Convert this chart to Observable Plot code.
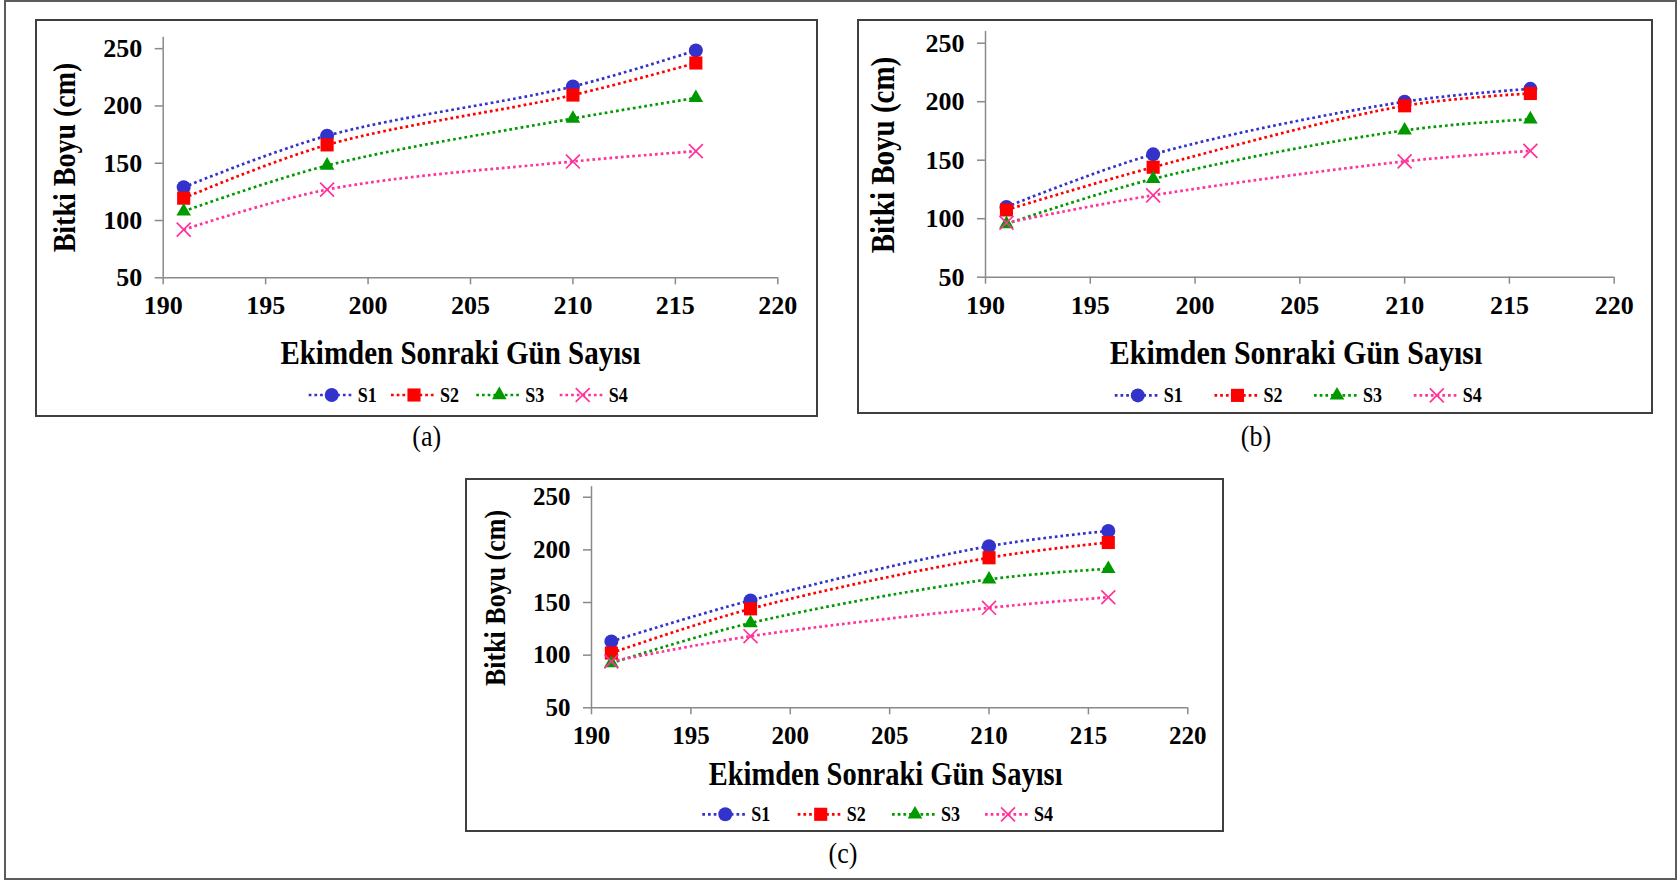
<!DOCTYPE html>
<html><head><meta charset="utf-8">
<script src="https://cdn.jsdelivr.net/npm/d3@7"></script>
<script src="https://cdn.jsdelivr.net/npm/@observablehq/plot@0.6"></script>
<style>
body{margin:0;background:#fff;}
#page{position:relative;width:1680px;height:881px;overflow:hidden;background:#fff;font-family:"Liberation Serif","Times New Roman",serif;}
.frame{position:absolute;border:2px solid #3f3f3f;box-sizing:border-box;}
.plot{position:absolute;}
#overlay{position:absolute;left:0;top:0;}
</style></head><body><div id="page"></div>
<script>
// ---- data ----
const days = [191, 198, 210, 216];
const series = ["S1", "S2", "S3", "S4"];
const xTicks = [190, 195, 200, 205, 210, 215, 220];
const yTicks = [50, 100, 150, 200, 250];
const a_S1 = [129, 174, 217, 248.5];
const a_S2 = [119.5, 166, 209.5, 237.5];
const a_S3 = [108, 148, 189, 207];
const a_S4 = [92, 127, 151.5, 160.5];
const b_S1 = [110, 155, 200, 211];
const b_S2 = [107.5, 144, 196.5, 207];
const b_S3 = [95.5, 134, 175.5, 185];
const b_S4 = [96.5, 120, 149, 158];
const c_S1 = [113, 152, 203.5, 218];
const c_S2 = [102, 144, 192.5, 207];
const c_S3 = [92.5, 130.5, 172, 182];
const c_S4 = [94, 118, 145, 155];
const xTitle = "Ekimden Sonraki Gün Sayısı";
const yTitle = "Bitki Boyu (cm)";

const colors = ["#3333CC", "#FF0000", "#009A00", "#FF3399"];
const symbols = ["circle", "square", "triangle", "times"];
const symR = [7, 7.4, 5.4, 6.4];
const SY = 1.15; // vertical stretch of overlay text, as in the reference

const panels = [
  {vals:[a_S1,a_S2,a_S3,a_S4], label:"(a)", frame:{l:35,t:19,r:818,b:417}, svg:{l:37,t:21,w:779,h:304},
   x0:162.7, x1:777.3, yTop:36.7, yBot:277.3, tickFont:26,
   xt:{x:460.5,y:364,s:29}, yt:{x:75,y:157.5,s:28}, lg:{y:395,xs:[331.7,414,499.3,582.7]}, lb:{x:426.7,y:446}},
  {vals:[b_S1,b_S2,b_S3,b_S4], label:"(b)", frame:{l:857,t:19,r:1653,b:414}, svg:{l:859,t:21,w:792,h:304},
   x0:985, x1:1613.7, yTop:31, yBot:276.7, tickFont:26,
   xt:{x:1296,y:364,s:30}, yt:{x:894,y:155,s:29}, lg:{y:395.4,xs:[1137.8,1237.5,1337,1436.8]}, lb:{x:1256,y:446}},
  {vals:[c_S1,c_S2,c_S3,c_S4], label:"(c)", frame:{l:465,t:478,r:1224,b:832}, svg:{l:467,t:480,w:755,h:275},
   x0:591, x1:1187.3, yTop:486.2, yBot:707.3, tickFont:25,
   xt:{x:885.6,y:785,s:28.5}, yt:{x:505,y:598,s:26}, lg:{y:814.3,xs:[725.3,820.7,915,1008]}, lb:{x:843,y:863}}
];

const page = document.getElementById("page");
const outer = document.createElement("div");
outer.className = "frame";
Object.assign(outer.style, {left:"4px", top:"0px", width:"1673px", height:"880px", borderColor:"#5c5c5c"});
page.appendChild(outer);

const axisGray = "#898989";

panels.forEach(p => {
  const f = document.createElement("div");
  f.className = "frame";
  Object.assign(f.style, {left:p.frame.l+"px", top:p.frame.t+"px", width:(p.frame.r-p.frame.l)+"px", height:(p.frame.b-p.frame.t)+"px"});
  page.appendChild(f);

  const data = [];
  series.forEach((s, i) => days.forEach((d, j) => data.push({day:d, value:p.vals[i][j], series:s})));

  const s = p.svg;
  const dotMarks = series.map((name, i) => {
    const sub = data.filter(d => d.series === name);
    if (symbols[i] === "times")
      return Plot.dot(sub, {x:"day", y:"value", symbol:() => "times", stroke:colors[i], strokeWidth:1.7, r:symR[i]});
    return Plot.dot(sub, {x:"day", y:"value", symbol:() => symbols[i], fill:colors[i], r:symR[i]});
  });

  const chart = Plot.plot({
    width:s.w, height:s.h,
    marginLeft:p.x0 - s.l, marginRight:s.l + s.w - p.x1,
    marginTop:p.yTop - s.t, marginBottom:s.t + s.h - p.yBot,
    x:{domain:[190,220]}, y:{domain:[50,260]},
    color:{domain:series, range:colors},
    symbol:{domain:series, range:symbols},
    style:{fontFamily:"'Liberation Serif','Times New Roman',serif", background:"transparent", overflow:"visible"},
    marks:[
      Plot.ruleY([50], {x1:190, x2:220, stroke:axisGray, strokeWidth:1.5}),
      Plot.ruleX([190], {y1:50, y2:260, stroke:axisGray, strokeWidth:1.5}),
      Plot.axisX({ticks:xTicks, tickSize:7, tickPadding:11, stroke:axisGray, strokeWidth:1.5, fill:"#000",
        fontSize:p.tickFont, fontWeight:"bold", label:null, tickFormat:d => String(d)}),
      Plot.axisY({ticks:yTicks, tickSize:8, tickPadding:13, stroke:axisGray, strokeWidth:1.5, fill:"#000",
        fontSize:p.tickFont, fontWeight:"bold", label:null, tickFormat:d => String(d)}),
      Plot.line(data, {x:"day", y:"value", z:"series", stroke:"series", curve:"catmull-rom",
        strokeWidth:2.7, strokeDasharray:"2.7,3", strokeLinecap:"butt"}),
      ...dotMarks
    ]
  });
  chart.classList.add("plot");
  chart.style.left = s.l + "px";
  chart.style.top = s.t + "px";
  page.appendChild(chart);
});

// overlay with titles, legends and sub-labels
const ov = d3.select(page).append("svg").attr("id","overlay").attr("width",1680).attr("height",881)
  .style("font-family","'Liberation Serif','Times New Roman',serif");
panels.forEach(p => {
  ov.append("text").attr("transform",`translate(${p.xt.x},${p.xt.y}) scale(1,${SY})`).attr("text-anchor","middle")
    .attr("font-size",p.xt.s).attr("font-weight","bold").attr("fill","#000").text(xTitle);
  ov.append("text").attr("transform",`translate(${p.yt.x},${p.yt.y}) rotate(-90) scale(1,${SY})`).attr("text-anchor","middle")
    .attr("font-size",p.yt.s).attr("font-weight","bold").attr("fill","#000").text(yTitle);
  ov.append("text").attr("transform",`translate(${p.lb.x},${p.lb.y}) scale(1,${SY})`).attr("text-anchor","middle")
    .attr("font-size",26).attr("fill","#000").text(p.label);
  series.forEach((name, i) => {
    const cx = p.lg.xs[i], cy = p.lg.y;
    ov.append("line").attr("x1",cx-23).attr("x2",cx+20).attr("y1",cy).attr("y2",cy)
      .attr("stroke",colors[i]).attr("stroke-width",2.7).attr("stroke-dasharray","2.7,3");
    const typ = {circle:d3.symbolCircle, square:d3.symbolSquare, triangle:d3.symbolTriangle, times:d3.symbolTimes}[symbols[i]];
    const path = ov.append("path").attr("transform",`translate(${cx},${cy})`)
      .attr("d", d3.symbol(typ, Math.PI*symR[i]*symR[i])());
    if (symbols[i] === "times") path.attr("fill","none").attr("stroke",colors[i]).attr("stroke-width",1.7);
    else path.attr("fill",colors[i]);
    ov.append("text").attr("transform",`translate(${cx+26},${cy+6.5}) scale(1,${SY})`).attr("font-size",18).attr("font-weight","bold")
      .attr("fill","#000").text(name);
  });
});
</script></body></html>
